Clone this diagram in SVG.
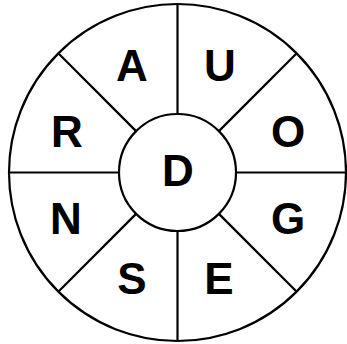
<svg xmlns="http://www.w3.org/2000/svg" width="347" height="344" viewBox="0 0 347 344">
<style>
.c{fill:#fff;stroke:#000;stroke-width:2.2}
.s{stroke:#000;stroke-width:2.2;fill:none}
.t{font-family:"Liberation Sans",Arial,sans-serif;font-weight:bold;font-size:44px;text-anchor:middle;fill:#000}
</style>
<rect width="347" height="344" fill="#fff"/>
<g id="outer"><circle class="c" cx="177.5" cy="172.5" r="168.5"/></g>
<g id="connectors">
<line class="s" x1="177.5" y1="4" x2="177.5" y2="114"/>
<line class="s" x1="177.5" y1="231" x2="177.5" y2="341"/>
<line class="s" x1="9" y1="172.5" x2="119" y2="172.5"/>
<line class="s" x1="236" y1="172.5" x2="346" y2="172.5"/>
<line class="s" x1="58.3" y1="53.3" x2="136.1" y2="131.1"/>
<line class="s" x1="296.7" y1="53.3" x2="218.9" y2="131.1"/>
<line class="s" x1="58.3" y1="291.7" x2="136.1" y2="213.9"/>
<line class="s" x1="296.7" y1="291.7" x2="218.9" y2="213.9"/>
</g>
<g id="center"><circle class="c" cx="177.5" cy="172.5" r="58.5"/><text class="t" x="178" y="186">D</text></g>
<g id="A"><text class="t" x="132" y="81">A</text></g>
<g id="U"><text class="t" x="220" y="81">U</text></g>
<g id="R"><text class="t" x="67" y="147">R</text></g>
<g id="O"><text class="t" x="288" y="147">O</text></g>
<g id="N"><text class="t" x="66" y="234">N</text></g>
<g id="G"><text class="t" x="288" y="234">G</text></g>
<g id="S"><text class="t" x="132" y="294">S</text></g>
<g id="E"><text class="t" x="219" y="294">E</text></g>
</svg>
